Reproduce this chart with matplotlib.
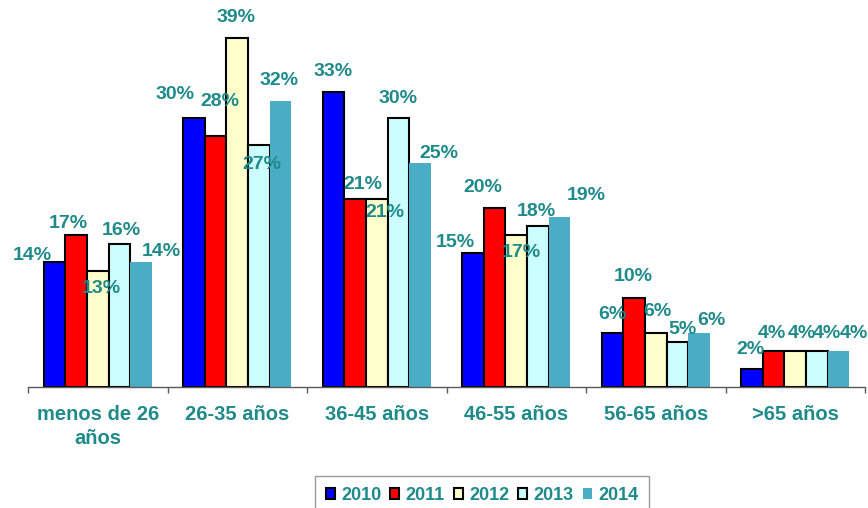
import matplotlib
matplotlib.use("Agg")
import matplotlib.pyplot as plt
from matplotlib.patches import Patch
import numpy as np

categories = ["menos de 26\naños", "26-35 años", "36-45 años", "46-55 años", "56-65 años", ">65 años"]
years = ["2010", "2011", "2012", "2013", "2014"]
v2010 = [14, 30, 33, 15, 6, 2]
v2011 = [17, 28, 21, 20, 10, 4]
v2012 = [13, 39, 21, 17, 6, 4]
v2013 = [16, 27, 30, 18, 5, 4]
v2014 = [14, 32, 25, 19, 6, 4]
series = [v2010, v2011, v2012, v2013, v2014]

# label offsets (pixels, dx right, dy down) relative to bar top centre
label_dx = [
    [-22, -19, 0, -18, 0, -2],
    [-8, 4, 8, -12, -1, -2],
    [4, -1, 8, 5, 2, 7],
    [2, 3, 0, -2, 5, 10],
    [20, -1, 19, 27, 12, 15],
]
label_dy = [
    [-6, -24, -20, -10, -19, -20],
    [-11, -35, -15, -20, -21, -18],
    [18, -20, 13, 18, -22, -18],
    [-13, 19, -20, -14, -13, -18],
    [-10, -20, -10, -21, -13, -18],
]

colors = ["#0000FF", "#FF0000", "#FFFFCC", "#CCFFFF", "#4BACC6"]
edges = ["black", "black", "black", "black", "none"]
teal = "#1F8A8A"

plt.rcParams['font.family'] = ['Liberation Sans', 'DejaVu Sans']

W, H = 868, 508
fig = plt.figure(figsize=(W / 100, H / 100), dpi=100)
px_per_unit = 8.95
ytop = 40
ax = fig.add_axes([28 / W, (H - 387) / H, 837 / W, ytop * px_per_unit / H])

x = np.arange(len(categories))
bw = 0.155
for i, (vals, c, ec) in enumerate(zip(series, colors, edges)):
    xs = x + (i - 2) * bw
    ax.bar(xs, vals, width=bw, color=c, edgecolor=ec, linewidth=1.5 if ec != "none" else 0, zorder=2)
    for j, v in enumerate(vals):
        ax.annotate(f"{v}%", xy=(xs[j], v), xytext=(label_dx[i][j], -label_dy[i][j]),
                    textcoords="offset pixels", ha="center", va="center",
                    fontsize=14, fontweight="bold", color=teal, annotation_clip=False, zorder=3)

ax.set_xlim(-0.5, len(categories) - 0.5)
ax.set_ylim(0, ytop)
for s in ["top", "left", "right"]:
    ax.spines[s].set_visible(False)
ax.spines["bottom"].set_color("#595959")
ax.spines["bottom"].set_linewidth(1)
ax.set_yticks([])
ax.set_xticks(x)
ax.set_xticklabels(categories, fontsize=14.5, fontweight="bold", color=teal, linespacing=1.3, va="top")
ax.tick_params(axis="x", which="major", length=0, pad=13)
ax.set_xticks(np.arange(-0.5, len(categories)), minor=True)
ax.tick_params(axis="x", which="minor", length=4, width=1, color="#595959", direction="out")

handles = [Patch(facecolor=c, edgecolor=ec, linewidth=1.5 if ec != "none" else 0) for c, ec in zip(colors, edges)]
leg = fig.legend(handles, years, loc="upper left", bbox_to_anchor=(315 / W, 1 - 476 / H),
                 bbox_transform=fig.transFigure, ncol=5, frameon=True, fancybox=False,
                 prop={"size": 13, "weight": "bold"}, labelcolor=teal,
                 handlelength=0.5, handleheight=0.5, handletextpad=0.35, columnspacing=0.5,
                 borderpad=0.6, borderaxespad=0)
leg.get_frame().set_edgecolor("#808080")
leg.get_frame().set_linewidth(1)

fig.savefig("out.png", dpi=100)
